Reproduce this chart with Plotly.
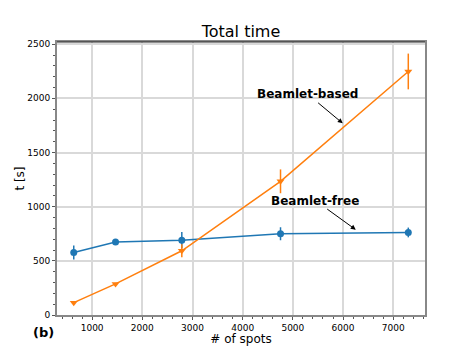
import plotly.graph_objects as go

# data
spots = [634, 1467, 2787, 4754, 7300]
free_t = [577, 673, 691, 750, 762]
free_err = [65, 20, 75, 60, 45]
based_t = [114, 287, 593, 1234, 2248]
based_err = [8, 10, 60, 110, 165]

blue = "#1f77b4"
orange = "#ff7f0e"

fig = go.Figure()
fig.add_trace(go.Scatter(x=spots, y=free_t, mode="lines+markers", name="Beamlet-free",
                         line=dict(color=blue, width=1.5),
                         marker=dict(symbol="circle", size=7, color=blue),
                         error_y=dict(type="data", array=free_err, color=blue, thickness=1.5, width=0)))
fig.add_trace(go.Scatter(x=spots, y=based_t, mode="lines+markers", name="Beamlet-based",
                         line=dict(color=orange, width=1.5),
                         marker=dict(symbol="triangle-down", size=7, color=orange),
                         error_y=dict(type="data", array=based_err, color=orange, thickness=1.5, width=0)))

# annotations with arrows (text position and arrow head in data coords)
fig.add_annotation(x=5994, y=1769, ax=5300, ay=2037, axref="x", ayref="y",
                   text="<b>Beamlet-based</b>", showarrow=True, arrowhead=2, arrowsize=1,
                   arrowwidth=1, arrowcolor="black", font=dict(size=12, color="black"))
fig.add_annotation(x=6254, y=787, ax=5450, ay=1056, axref="x", ayref="y",
                   text="<b>Beamlet-free</b>", showarrow=True, arrowhead=2, arrowsize=1,
                   arrowwidth=1, arrowcolor="black", font=dict(size=12, color="black"))
fig.add_annotation(x=-0.038, y=-0.03, xref="paper", yref="paper", text="<b>(b)</b>",
                   showarrow=False, font=dict(size=13, color="black"), xanchor="center", yanchor="top")

# thin dark top line
fig.add_shape(type="line", xref="paper", yref="paper", x0=0, x1=1, y0=1, y1=1,
              line=dict(color="#222", width=1))

# page body has an 8px margin, so the figure is sized to fit inside it
fig.update_layout(
    width=456, height=338,
    margin=dict(l=49, r=39, t=34, b=31),
    paper_bgcolor="white", plot_bgcolor="white",
    font=dict(family="DejaVu Sans", color="black"),
    showlegend=False,
    title=dict(text="Total time", x=0.5, xref="paper", y=0.932, yanchor="middle",
               font=dict(size=16, color="black")),
    xaxis=dict(title=dict(text="# of spots", font=dict(size=12), standoff=0),
               automargin=False,
               range=[300, 7633], dtick=1000, tick0=0, showgrid=True,
               gridcolor="#d9d9d9", gridwidth=1.5, zeroline=False,
               showline=True, linecolor="#888", linewidth=2, mirror=True,
               ticks="outside", ticklen=3, tickcolor="#555", tickfont=dict(size=9),
               minor=dict(dtick=200, ticks="outside", ticklen=2, tickcolor="#555", showgrid=False)),
    yaxis=dict(title=dict(text="t [s]", font=dict(size=12), standoff=0),
               automargin=False,
               range=[0, 2520], dtick=500, showgrid=True,
               gridcolor="#d9d9d9", gridwidth=1.5, zeroline=False,
               showline=True, linecolor="#888", linewidth=2, mirror=True,
               ticks="outside", ticklen=3, tickcolor="#555", tickfont=dict(size=9),
               minor=dict(dtick=100, ticks="outside", ticklen=2, tickcolor="#555", showgrid=False)),
)

fig.write_html("out.html")
